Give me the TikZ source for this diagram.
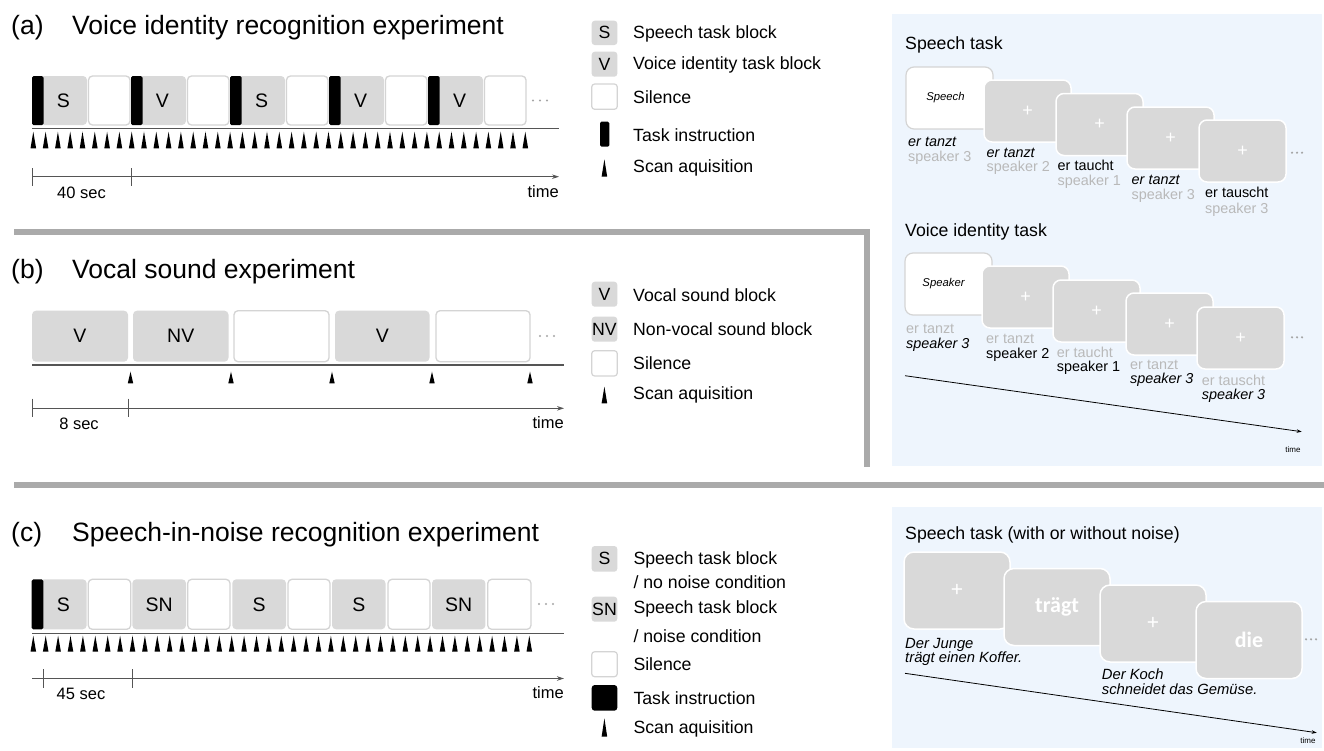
\documentclass[tikz,border=0pt]{standalone}
\usepackage{fontspec}
\setmainfont{Liberation Sans}
\newfontfamily\calib{Carlito}
\usetikzlibrary{arrows.meta}
\definecolor{blkgray}{RGB}{217,217,217}
\definecolor{silborder}{RGB}{212,212,212}
\definecolor{sepgray}{RGB}{170,170,170}
\definecolor{panelblue}{RGB}{238,245,253}
\definecolor{labgray}{RGB}{185,185,185}
\definecolor{dotgray}{RGB}{165,165,165}
\definecolor{linegray}{RGB}{85,85,85}
\newcommand{\rbox}[7]{\node[#1, minimum width={(#4)-(#3)}, minimum height={(#6)-(#5)}] (#2) at ({((#3)+(#4))/2},{((#5)+(#6))/2}) {#7};}
\newcommand{\scan}[4]{\fill[black] ({#1-#4/2},{#3}) -- ({#1},{#2}) -- ({#1+#4/2},{#3}) -- cycle;}
\newcommand{\threedots}[3]{\foreach \d in {-1,0,1} {\fill[dotgray] ({#1+#3*\d},{#2}) circle (1.2pt);}}
\begin{document}
\begin{tikzpicture}[x=1pt,y=-1pt,
  title/.style={anchor=west, inner sep=0, font=\fontsize{26.5}{30}\selectfont, text height=19pt, text depth=0pt},
  leg/.style={anchor=west, inner sep=0, font=\fontsize{17.7}{21}\selectfont, text height=12.7pt, text depth=0pt},
  gblk/.style={fill=blkgray, rounded corners=4pt, inner sep=0, font=\fontsize{19.5}{20}\selectfont},
  wblk/.style={fill=white, draw=silborder, line width=1.3pt, rounded corners=4pt, inner sep=0},
  iblk/.style={fill=black, rounded corners=1.5pt, inner sep=0},
  lbox/.style={fill=blkgray, rounded corners=3pt, inner sep=0, font=\fontsize{17.7}{20}\selectfont},
  lwbox/.style={fill=white, draw=silborder, line width=1.2pt, rounded corners=3pt, inner sep=0},
  ax/.style={draw=linegray, line width=1pt, -{Stealth[length=7pt,width=4.5pt]}},
  baseln/.style={draw=linegray, line width=1.6pt},
  tickln/.style={draw=linegray, line width=1pt},
  sm/.style={inner sep=0, font=\fontsize{16.5}{20}\selectfont, text height=11.8pt, text depth=0pt},
  lab/.style={anchor=west, inner sep=0, font=\fontsize{14.4}{15}\selectfont, text height=10.3pt, text depth=0pt},
  labi/.style={lab, font=\fontsize{14.4}{15}\selectfont\itshape},
  gl/.style={lab, text=labgray},
  lowlab/.style={anchor=west, inner sep=0, font=\fontsize{14.8}{15}\selectfont\itshape, text height=10.6pt, text depth=0pt},
  wcard/.style={draw=silborder, line width=1.2pt, fill=white, rounded corners=8pt, inner sep=0, font=\fontsize{11.3}{12}\selectfont\itshape},
  gcard/.style={draw=white, line width=1.5pt, fill=blkgray, rounded corners=8pt, inner sep=0, text=white, font=\fontsize{18}{18}\selectfont},
  gcardL/.style={gcard, rounded corners=10pt, font=\fontsize{21}{21}\selectfont},
  gcardW/.style={gcard, rounded corners=10pt, font=\fontsize{22}{22}\selectfont\calib\bfseries},
  sepln/.style={draw=sepgray, line width=6pt},
  tarrow/.style={draw=black, line width=0.8pt, -{Stealth[length=5pt,width=3.5pt]}},
  tinytime/.style={inner sep=0, font=\fontsize{8}{9}\selectfont}
]
\useasboundingbox (0,0) rectangle (1324,750);
\fill[white] (0,0) rectangle (1324,750);

% ---------- right panels ----------
\fill[panelblue] (892,14) rectangle (1322,466);
\fill[panelblue] (892,506.7) rectangle (1322,748);

% ---------- separators ----------
\draw[sepln] (14,231.7) -| (866.7,466.7);
\draw[sepln] (14,485) -- (1324,485);

% ================= (a) =================
\node[title] (a-lab) at (11,25) {(a)};
\node[title] (a-title) at (72,25) {Voice identity recognition experiment};
\foreach \k/\l in {0/S,1/V,2/S,3/V,4/V}{
  \rbox{gblk}{a-t\k}{40+99*\k}{87+99*\k}{76}{125}{\l}
  \rbox{iblk}{a-i\k}{32+99*\k}{43.5+99*\k}{76}{125}{}
  \rbox{wblk}{a-s\k}{88.5+99*\k}{130+99*\k}{76}{125}{}
}
\threedots{540}{100.5}{7}
\coordinate (a-b0) at (32,128.3); \coordinate (a-b1) at (559,128.3);
\draw[baseln] (a-b0) -- (a-b1);
\foreach \i in {0,...,40} {\scan{33.3+12.3*\i}{131.7}{148.3}{5.6}}
\coordinate (a-x0) at (32,176.7); \coordinate (a-x1) at (559,176.7);
\draw[ax] (a-x0) -- (a-x1);
\draw[tickln] (32,168) -- (32,185.5);
\draw[tickln] (131,168) -- (131,185.5);
\node[sm] (a-sec) at (81.5,192.7) {40 sec};
\node[sm, anchor=east] (a-time) at (559,191.7) {time};

% legend (a)
\rbox{lbox}{la-s}{591.7}{617.3}{20.7}{45}{S}
\rbox{lbox}{la-v}{591.7}{617.3}{51.7}{76.7}{V}
\rbox{lwbox}{la-w}{591.7}{617.3}{84}{109.3}{}
\rbox{iblk}{la-i}{600}{609.3}{121.7}{146.7}{}
\scan{604.4}{159.3}{176.7}{5.6}
\node[leg] (la-t1) at (633,32.3) {Speech task block};
\node[leg] (la-t2) at (633,62.7) {Voice identity task block};
\node[leg] (la-t3) at (633,97.3) {Silence};
\node[leg] (la-t4) at (633,135) {Task instruction};
\node[leg] (la-t5) at (633,166) {Scan aquisition};

% ================= (b) =================
\node[title] (b-lab) at (11,269) {(b)};
\node[title] (b-title) at (72,269) {Vocal sound experiment};
\rbox{gblk}{b-1}{32}{128}{310.7}{361.7}{V}
\rbox{gblk}{b-2}{133}{228.5}{310.7}{361.7}{NV}
\rbox{wblk}{b-3}{234}{329}{310.7}{361.7}{}
\rbox{gblk}{b-4}{335}{429.5}{310.7}{361.7}{V}
\rbox{wblk}{b-5}{436}{530}{310.7}{361.7}{}
\threedots{547}{336}{7}
\coordinate (b-b0) at (32,365); \coordinate (b-b1) at (564,365);
\draw[baseln] (b-b0) -- (b-b1);
\foreach \x in {130.5,231,332,432,530} {\scan{\x}{371.7}{383.3}{5.4}}
\coordinate (b-x0) at (32,408.3); \coordinate (b-x1) at (564,408.3);
\draw[ax] (b-x0) -- (b-x1);
\draw[tickln] (32,398.5) -- (32,417);
\draw[tickln] (128,398.5) -- (128,417);
\node[sm] (b-sec) at (79,424) {8 sec};
\node[sm, anchor=east] (b-time) at (564,422.7) {time};

% legend (b)
\rbox{lbox}{lb-v}{591.7}{617.3}{281.7}{306.7}{V}
\rbox{lbox}{lb-nv}{591.7}{617.3}{316.7}{341.7}{NV}
\rbox{lwbox}{lb-w}{591.7}{617.3}{350.7}{376}{}
\scan{604.4}{386.7}{403.3}{5.6}
\node[leg] (lb-t1) at (633,295) {Vocal sound block};
\node[leg] (lb-t2) at (633,329.3) {Non-vocal sound block};
\node[leg] (lb-t3) at (633,363.3) {Silence};
\node[leg] (lb-t4) at (633,392.7) {Scan aquisition};

% ================= (c) =================
\node[title] (c-lab) at (11,531.5) {(c)};
\node[title] (c-title) at (72,531.5) {Speech-in-noise recognition experiment};
\rbox{gblk}{c-1}{40}{86.7}{579.3}{629.3}{S}
\rbox{iblk}{c-i}{31.7}{43.3}{579.3}{629.3}{}
\rbox{wblk}{c-2}{88.3}{130.7}{579.3}{629.3}{}
\rbox{gblk}{c-3}{132.3}{186}{579.3}{629.3}{SN}
\rbox{wblk}{c-4}{187.7}{230}{579.3}{629.3}{}
\rbox{gblk}{c-5}{232.3}{286}{579.3}{629.3}{S}
\rbox{wblk}{c-6}{288}{330}{579.3}{629.3}{}
\rbox{gblk}{c-7}{332}{385.5}{579.3}{629.3}{S}
\rbox{wblk}{c-8}{388}{430}{579.3}{629.3}{}
\rbox{gblk}{c-9}{432}{485.4}{579.3}{629.3}{SN}
\rbox{wblk}{c-10}{487.7}{531}{579.3}{629.3}{}
\threedots{546}{604}{7}
\coordinate (c-b0) at (32,633.3); \coordinate (c-b1) at (564,633.3);
\draw[baseln] (c-b0) -- (c-b1);
\foreach \i in {0,...,40} {\scan{33.3+12.4*\i}{635.7}{651.7}{5.6}}
\coordinate (c-x0) at (32,678.5); \coordinate (c-x1) at (564,678.5);
\draw[ax] (c-x0) -- (c-x1);
\draw[tickln] (43.3,669.3) -- (43.3,687.7);
\draw[tickln] (132.3,669.3) -- (132.3,687.7);
\node[sm] (c-sec) at (81,694) {45 sec};
\node[sm, anchor=east] (c-time) at (564,693) {time};

% legend (c)
\rbox{lbox}{lc-s}{591.7}{617.3}{546}{571.7}{S}
\rbox{lbox}{lc-sn}{591.7}{617.3}{596.7}{621.7}{SN}
\rbox{lwbox}{lc-w}{591.7}{617.3}{651.7}{676.7}{}
\rbox{iblk, rounded corners=3pt}{lc-i}{591.7}{617.3}{685}{710.7}{}
\scan{604.4}{718.3}{736.7}{5.6}
\node[leg] (lc-t1) at (633.3,558.3) {Speech task block};
\node[leg] (lc-t1b) at (633.3,581.7) {/ no noise condition};
\node[leg] (lc-t2) at (633.3,607.3) {Speech task block};
\node[leg] (lc-t2b) at (633.3,636) {/ noise condition};
\node[leg] (lc-t3) at (633.3,664.3) {Silence};
\node[leg] (lc-t4) at (633.3,697.7) {Task instruction};
\node[leg] (lc-t5) at (633.3,726.7) {Scan aquisition};

% ================= upper right panel =================
\node[leg] (sp-title) at (905,43.3) {Speech task};
\rbox{wcard, inner xsep=0pt}{sp-c1}{906}{993}{67}{129}{\hspace*{-8pt}Speech}
\rbox{gcard}{sp-c2}{984}{1071}{80}{142}{+}
\rbox{gcard}{sp-c3}{1056}{1143}{93.5}{155.5}{+}
\rbox{gcard}{sp-c4}{1127}{1214}{107}{169}{+}
\rbox{gcard}{sp-c5}{1199}{1286}{120}{182}{+}
\threedots{1297}{152.7}{5}
\node[labi] (sp-w1) at (908,141) {er tanzt};
\node[gl] (sp-s1) at (908,156.7) {speaker 3};
\node[labi] (sp-w2) at (986.5,152.7) {er tanzt};
\node[gl] (sp-s2) at (986.5,166.7) {speaker 2};
\node[lab] (sp-w3) at (1057.5,165) {er taucht};
\node[gl] (sp-s3) at (1057.5,180) {speaker 1};
\node[labi] (sp-w4) at (1131.5,179.3) {er tanzt};
\node[gl] (sp-s4) at (1131.5,194.3) {speaker 3};
\node[lab] (sp-w5) at (1205,192.7) {er tauscht};
\node[gl] (sp-s5) at (1205,208.3) {speaker 3};

\node[leg] (vi-title) at (905,230) {Voice identity task};
\rbox{wcard}{vi-c1}{905}{992}{253}{315}{\hspace*{-10pt}Speaker}
\rbox{gcard}{vi-c2}{982}{1069}{266}{328}{+}
\rbox{gcard}{vi-c3}{1053}{1140}{280}{342}{+}
\rbox{gcard}{vi-c4}{1126}{1213}{293}{355}{+}
\rbox{gcard}{vi-c5}{1197}{1284}{307}{369}{+}
\threedots{1297}{337.3}{5}
\node[gl] (vi-w1) at (906,328.3) {er tanzt};
\node[labi] (vi-s1) at (906,343.3) {speaker 3};
\node[gl] (vi-w2) at (986,338.3) {er tanzt};
\node[lab] (vi-s2) at (986,353.3) {speaker 2};
\node[gl] (vi-w3) at (1056.7,352.7) {er taucht};
\node[lab] (vi-s3) at (1056.7,366.7) {speaker 1};
\node[gl] (vi-w4) at (1130,364.3) {er tanzt};
\node[labi] (vi-s4) at (1130,378.3) {speaker 3};
\node[gl] (vi-w5) at (1201.7,380) {er tauscht};
\node[labi] (vi-s5) at (1201.7,394.3) {speaker 3};
\coordinate (up-t0) at (905,375.7); \coordinate (up-t1) at (1301.7,431.7);
\draw[tarrow] (up-t0) -- (up-t1);
\node[tinytime] (up-time) at (1293,449.3) {time};

% ================= lower right panel =================
\node[leg] (sn-title) at (905,533.3) {Speech task (with or without noise)};
\rbox{gcardL}{sn-c1}{904}{1010}{552}{629}{+}
\rbox{gcardW}{sn-c2}{1004}{1110}{568.5}{645.5}{trägt}
\rbox{gcardL}{sn-c3}{1100}{1206}{585}{662}{+}
\rbox{gcardW}{sn-c4}{1196}{1302}{601.5}{678.5}{die}
\threedots{1311}{639.3}{5}
\node[lowlab] (sn-l1) at (905,643.3) {Der Junge};
\node[lowlab] (sn-l2) at (905,657.5) {trägt einen Koffer.};
\node[lowlab] (sn-l3) at (1101.7,674) {Der Koch};
\node[lowlab] (sn-l4) at (1101.7,689.3) {schneidet das Gemüse.};
\coordinate (lo-t0) at (905,673.3); \coordinate (lo-t1) at (1316.7,732.7);
\draw[tarrow] (lo-t0) -- (lo-t1);
\node[tinytime] (lo-time) at (1308,740.7) {time};
\end{tikzpicture}
\end{document}
